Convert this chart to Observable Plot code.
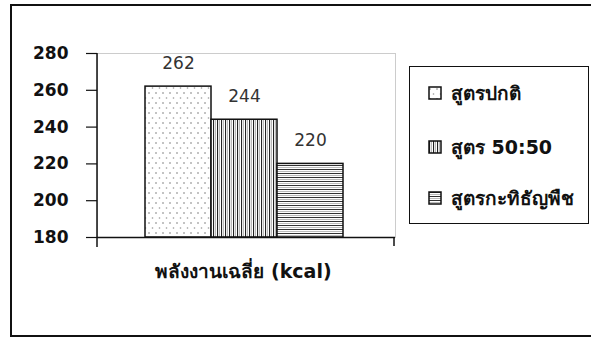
<!DOCTYPE html>
<html>
<head>
<meta charset="utf-8">
<script src="https://cdn.jsdelivr.net/npm/d3@7"></script>
<script src="https://cdn.jsdelivr.net/npm/@observablehq/plot@0.6"></script>
<style>
  html, body { margin: 0; padding: 0; background: #fff; }
  #wrap { position: relative; width: 591px; height: 341px; overflow: hidden; font-family: "DejaVu Sans", Tahoma, sans-serif; }
  #outer { position: absolute; left: 10px; top: 4px; width: 620px; height: 333px; border: 2px solid #111; box-sizing: border-box; }
  #chart { position: absolute; left: 0; top: 0; }
  #legend { position: absolute; left: 409px; top: 66px; width: 180px; height: 158px; border: 1.5px solid #111; box-sizing: border-box; background: #fff; }
  .item { position: absolute; left: 18px; height: 22px; display: flex; align-items: center; font-weight: bold; font-size: 19px; color: #111; white-space: nowrap; }
  .item svg { margin-right: 9px; }
</style>
</head>
<body>
<div id="wrap">
  <div id="outer"></div>
  <div id="chart"></div>
  <div id="legend"></div>
</div>
<script>
const category = "พลังงานเฉลี่ย (kcal)";
const series = ["สูตรปกติ", "สูตร 50:50", "สูตรกะทิธัญพืช"];
const values = [262, 244, 220];
const patterns = ["url(#pDots)", "url(#pVert)", "url(#pHorz)"];
const yTicks = [180, 200, 220, 240, 260, 280];

const data = series.map((s, i) => ({series: s, value: values[i], fill: patterns[i]}));

function defs() {
  const d = d3.create("svg:defs");
  const p1 = d.append("pattern").attr("id", "pDots").attr("patternUnits", "userSpaceOnUse").attr("width", 7).attr("height", 10);
  p1.append("rect").attr("width", 7).attr("height", 10).attr("fill", "#fff");
  p1.append("circle").attr("cx", 2).attr("cy", 3).attr("r", 0.8).attr("fill", "#777");
  p1.append("circle").attr("cx", 5.5).attr("cy", 8).attr("r", 0.8).attr("fill", "#999");
  const p2 = d.append("pattern").attr("id", "pVert").attr("patternUnits", "userSpaceOnUse").attr("width", 4).attr("height", 4);
  p2.append("rect").attr("width", 4).attr("height", 4).attr("fill", "#fff");
  p2.append("rect").attr("x", 1).attr("width", 1.1).attr("height", 4).attr("fill", "#222");
  p2.append("rect").attr("x", 3).attr("width", 0.7).attr("height", 4).attr("fill", "#999");
  const p3 = d.append("pattern").attr("id", "pHorz").attr("patternUnits", "userSpaceOnUse").attr("width", 4).attr("height", 4);
  p3.append("rect").attr("width", 4).attr("height", 4).attr("fill", "#fff");
  p3.append("rect").attr("y", 1).attr("height", 1).attr("width", 4).attr("fill", "#333");
  p3.append("rect").attr("y", 3).attr("height", 0.8).attr("width", 4).attr("fill", "#aaa");
  return d.node();
}

const plot = Plot.plot({
  width: 591,
  height: 341,
  marginLeft: 97,
  marginRight: 196,
  marginTop: 53,
  marginBottom: 104,
  style: {background: "transparent", fontFamily: "DejaVu Sans, Tahoma, sans-serif", overflow: "visible"},
  x: {domain: series, range: [144, 343], padding: 0, axis: null},
  y: {domain: [180, 280], axis: null},
  color: {type: "identity"},
  marks: [
    defs,
    Plot.frame({stroke: "#ccc", strokeWidth: 1}),
    Plot.barY(data, {x: "series", y1: 180, y2: "value", fill: "fill", stroke: "#111", strokeWidth: 1.5, inset: 0}),
    Plot.text(data, {x: "series", y: "value", text: d => String(d.value), dy: -23, fill: "#333", fontSize: 17}),
    Plot.axisY(yTicks, {label: null, tickSize: 11, tickPadding: 18, fontSize: 17, fontWeight: "bold", fill: "#111", stroke: "#111", strokeWidth: 1.2}),
    Plot.ruleY([180], {stroke: "#111", strokeWidth: 1.5}),
    Plot.text([category], {frameAnchor: "bottom", dx: -3, dy: 40, fontSize: 19, fontWeight: "bold", fill: "#111"})
  ]
});
document.getElementById("chart").appendChild(plot);

// y axis line and category boundary ticks (frame edges)
const svg = d3.select(plot);
const yS = plot.scale("y");
const yTop = yS.apply(280), yBot = yS.apply(180);
const left = 97, right = 591 - 196;
svg.append("line").attr("x1", left).attr("x2", left).attr("y1", yTop).attr("y2", yBot + 10).attr("stroke", "#111").attr("stroke-width", 1.5);
svg.append("line").attr("x1", right - 1).attr("x2", right - 1).attr("y1", yBot).attr("y2", yBot + 9).attr("stroke", "#111").attr("stroke-width", 1.5);

// legend
const legend = document.getElementById("legend");
const tops = [15, 69, 120];
series.forEach((s, i) => {
  const item = document.createElement("div");
  item.className = "item";
  item.style.top = tops[i] + "px";
  item.innerHTML = `<svg width="14" height="14"><rect x="1" y="1" width="12" height="12" fill="${patterns[i]}" stroke="#111" stroke-width="1.5"/></svg><span>${s}</span>`;
  legend.appendChild(item);
});
legend.querySelectorAll("svg").forEach(sv => sv.prepend(defs()));
</script>
</body>
</html>
